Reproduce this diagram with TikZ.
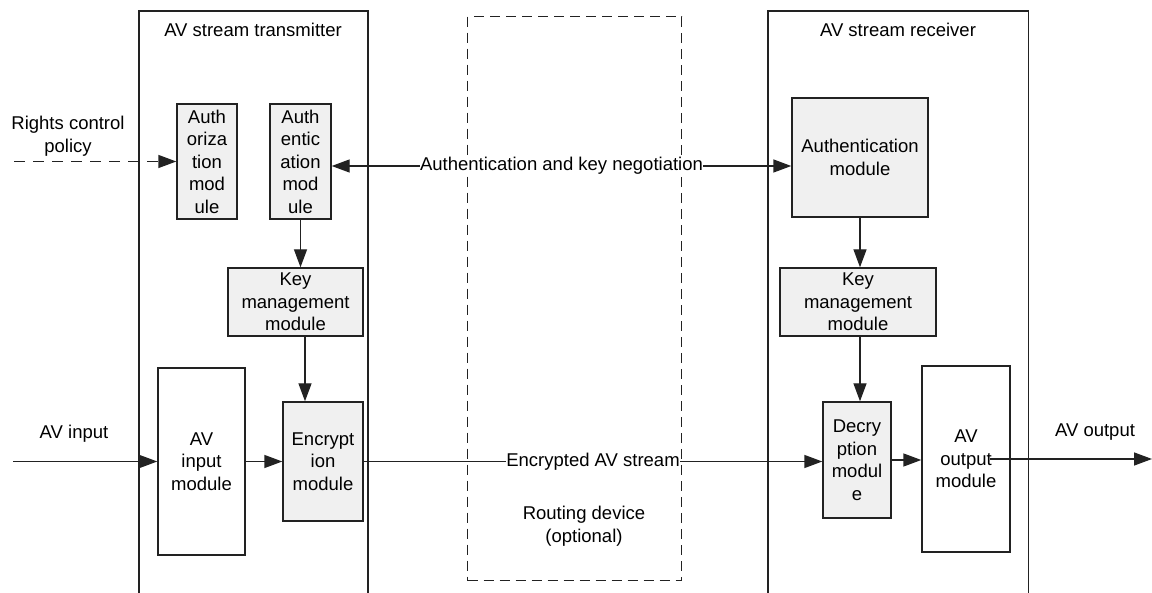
\documentclass[tikz,border=0pt]{standalone}
\usepackage{fontspec}
\setmainfont{Liberation Sans}
\usetikzlibrary{arrows.meta}
\definecolor{linegray}{HTML}{222222}
\definecolor{boxgray}{HTML}{F0F0F0}
\tikzset{
  every node/.style={text=black},
  module/.style={draw=linegray, line width=1.4pt, fill=boxgray, inner sep=0pt,
    align=center, anchor=center},
  plainmodule/.style={module, fill=white},
  frame/.style={inner sep=0pt, anchor=north west},
  framedge/.style={draw=linegray, line width=1.4pt},
  flow/.style={draw=linegray, line width=1.4pt,
    -{Triangle[length=18pt,width=13pt]}},
  twoway/.style={draw=linegray, line width=1.4pt,
    {Triangle[length=18pt,width=13pt]}-{Triangle[length=18pt,width=13pt]}},
  policy/.style={flow, dash pattern=on 11pt off 8pt},
  routebox/.style={draw=linegray, line width=1.4pt, dash pattern=on 10pt off 6pt,
    inner sep=0pt, anchor=north west},
  tag/.style={fill=white, inner sep=0.5pt},
  caption/.style={align=center, inner sep=0pt, anchor=center}
}
\begin{document}
\begin{tikzpicture}[x=1pt, y=-1pt, font=\fontsize{18.5pt}{22.5pt}\selectfont]
\useasboundingbox[fill=white] (0,0) rectangle (1152,593);

% open frames of transmitter and receiver
\node[frame, minimum width=228.5pt, minimum height=582pt] (tx) at (139,11) {};
\node[frame, minimum width=260pt, minimum height=582pt] (rx) at (768,11) {};
\draw[framedge] (tx.south west) |- (tx.north east) -- (tx.south east);
\draw[framedge] (rx.south west) |- (rx.north east) -- (rx.south east);
\node[caption] (txtitle) at (253,30) {AV stream transmitter};
\node[caption] (rxtitle) at (898,30) {AV stream receiver};

% optional routing device
\node[routebox, minimum width=214pt, minimum height=564pt] (router) at (467,16) {};
\node[caption] (routertext) at (584,526) {Routing device\\(optional)};

% transmitter modules
\node[module, minimum width=60pt, minimum height=115pt] (authz) at (207,161.5)
  {Auth\\oriza\\tion\\mod\\ule};
\node[module, minimum width=61pt, minimum height=115pt] (authtx) at (300.5,161.5)
  {Auth\\entic\\ation\\mod\\ule};
\node[module, minimum width=135pt, minimum height=68pt] (keytx) at (295.5,302)
  {Key\\management\\module};
\node[module, minimum width=80pt, minimum height=119pt] (enc) at (323,461.5)
  {Encrypt\\ion\\module};
\node[plainmodule, minimum width=87pt, minimum height=187pt] (avin) at (201.5,461.5)
  {AV\\input\\module};

% receiver modules
\node[module, minimum width=136pt, minimum height=119pt] (authrx) at (860,157.5)
  {Authentication\\module};
\node[module, minimum width=156pt, minimum height=68pt] (keyrx) at (858,302)
  {Key\\management\\module};
\node[module, minimum width=68pt, minimum height=116pt] (dec) at (857,460)
  {Decry\\ption\\modul\\e};
\node[plainmodule, minimum width=88pt, minimum height=186pt] (avout) at (966,459)
  {AV\\output\\module};

% outside labels and free line ends
\node[caption] (rights) at (68,136) {Rights control\\policy};
\node[caption] (avinlabel) at (74,434) {AV input};
\node[caption] (avoutlabel) at (1095,432) {AV output};
\coordinate (policystart) at (14,161.5);
\coordinate (avinstart) at (13,461.5);
\coordinate (avoutstart) at (990,459);
\coordinate (avoutend) at (1152,459);
\coordinate (negline) at (562,166);

% connectors
\draw[policy] (policystart) -- (authz.west);
\draw[flow] (authtx) -- (keytx.north -| authtx);
\draw[flow] (keytx.south -| 305,0) -- (enc.north -| 305,0);
\draw[flow] (avinstart) -- (avin.west);
\draw[flow] (avin.east) -- (enc.west);
\draw[twoway] (authtx.east |- negline) -- node[tag] {Authentication and key negotiation}
  (authrx.west |- negline);
\draw[flow] (enc.east) -- node[tag] {Encrypted AV stream} (dec.west |- enc.east);
\draw[flow] (authrx) -- (keyrx.north -| authrx);
\draw[flow] (keyrx.south -| authrx) -- (dec.north -| authrx);
\draw[flow] (dec.east) -- (avout.west |- dec.east);
\draw[flow] (avoutstart) -- (avoutend);
\end{tikzpicture}
\end{document}
